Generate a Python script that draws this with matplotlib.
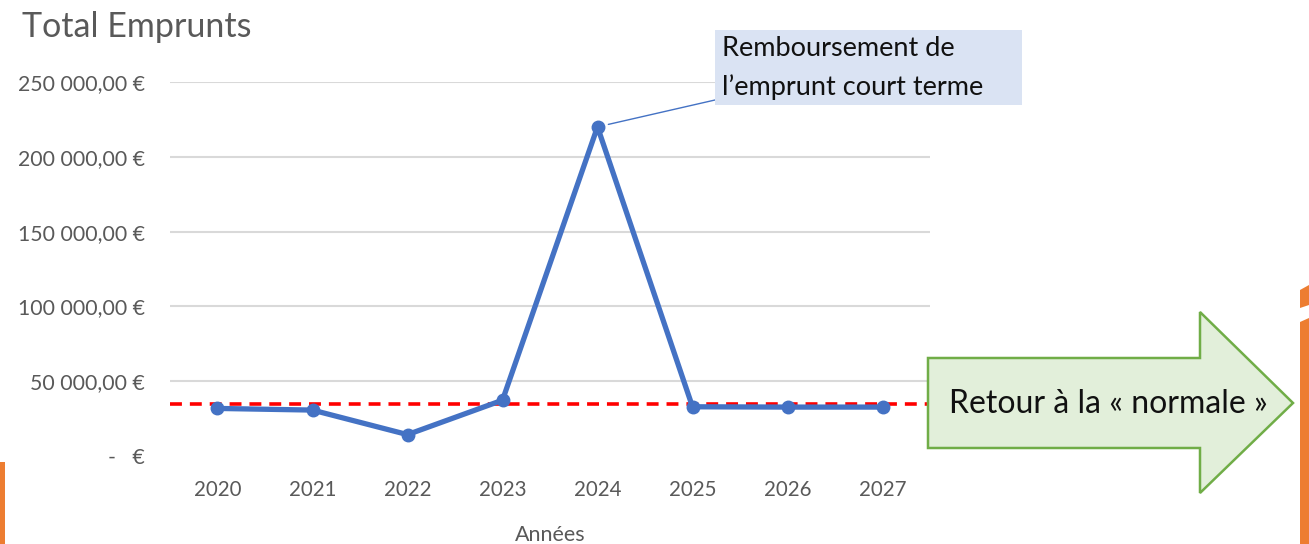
import matplotlib
matplotlib.use("Agg")
import matplotlib.pyplot as plt
from matplotlib.patches import Polygon, Rectangle

plt.rcParams['font.family'] = ['Lato', 'DejaVu Sans']

# data
annees = ["2020", "2021", "2022", "2023", "2024", "2025", "2026", "2027"]
emprunts = [31800, 30700, 14300, 37300, 220000, 32900, 32700, 32700]
niveau_normal = 35000
yticks = [0, 50000, 100000, 150000, 200000, 250000]

W, H = 1309, 544
fig = plt.figure(figsize=(W / 100, H / 100), dpi=100)


def fx(x):
    return x / W


def fy(y):
    return 1 - y / H


# axes placed on pixel geometry of the original
ax = fig.add_axes([fx(170), fy(456), fx(930) - fx(170), fy(82) - fy(456)])
ax.set_xlim(-0.5, len(annees) - 0.5)
ax.set_ylim(0, 250000)

grey = "#595959"
ax.set_yticks(yticks)
ax.set_yticklabels([("{:,.2f} €".format(v).replace(",", " ").replace(".", ",")
                     if v else "-   €") for v in yticks])
ax.set_xticks(range(len(annees)))
ax.set_xticklabels(annees)
ax.tick_params(axis="y", length=0, pad=18, labelsize=15.3, labelcolor=grey)
ax.tick_params(axis="x", length=0, pad=17, labelsize=14.8, labelcolor=grey)
for s in ax.spines.values():
    s.set_visible(False)
for v in yticks[1:]:
    ax.axhline(v, color="#d9d9d9", lw=1.5, zorder=0)

ax.axhline(niveau_normal, color="red", lw=2.6, ls=(0, (3.3, 2.2)), zorder=1,
           clip_on=False)
ax.plot(range(len(annees)), emprunts, color="#4472c4", lw=3.8, marker="o",
        markersize=9, zorder=3)

ax.set_xlabel("Années", fontsize=15.5, color=grey, labelpad=18)

fig.text(fx(22), fy(27), "Total Emprunts", fontsize=24.5, color=grey,
         ha="left", va="center")

# callout
fig.patches.append(Rectangle((fx(715), fy(105)), fx(1022) - fx(715),
                             fy(30) - fy(105), transform=fig.transFigure,
                             facecolor="#dae3f3", edgecolor="none"))
fig.text(fx(722), fy(49), "Remboursement de", fontsize=19.5, color="#111111",
         ha="left", va="center")
fig.text(fx(722), fy(87), "l’emprunt court terme", fontsize=19.5,
         color="#111111", ha="left", va="center")
ax.annotate("", xy=(4, emprunts[4]), xytext=(fx(715), fy(100)),
            textcoords="figure fraction",
            arrowprops=dict(arrowstyle="-", color="#4472c4", lw=1,
                            shrinkA=0, shrinkB=8))

# green arrow
pts = [(928, 358), (1200, 358), (1200, 312), (1293, 403), (1200, 493),
       (1200, 448), (928, 448)]
fig.patches.append(Polygon([(fx(x), fy(y)) for x, y in pts], closed=True,
                           transform=fig.transFigure, facecolor="#e2efda",
                           edgecolor="#70ad47", lw=1.8, zorder=5))
fig.text(fx(1108), fy(404), "Retour à la « normale »", fontsize=23,
         color="#111111", ha="center", va="center", zorder=6)

# orange page decorations
orange = "#ed7d31"
fig.patches.append(Rectangle((0, fy(544)), fx(5), fy(462) - fy(544),
                             transform=fig.transFigure, facecolor=orange,
                             edgecolor="none"))
for poly in ([(1300, 290), (1309, 285), (1309, 305), (1300, 308)],
             [(1300, 322), (1309, 318), (1309, 544), (1300, 544)]):
    fig.patches.append(Polygon([(fx(x), fy(y)) for x, y in poly],
                               transform=fig.transFigure, facecolor=orange,
                               edgecolor="none"))

fig.savefig("out.png", dpi=100)
